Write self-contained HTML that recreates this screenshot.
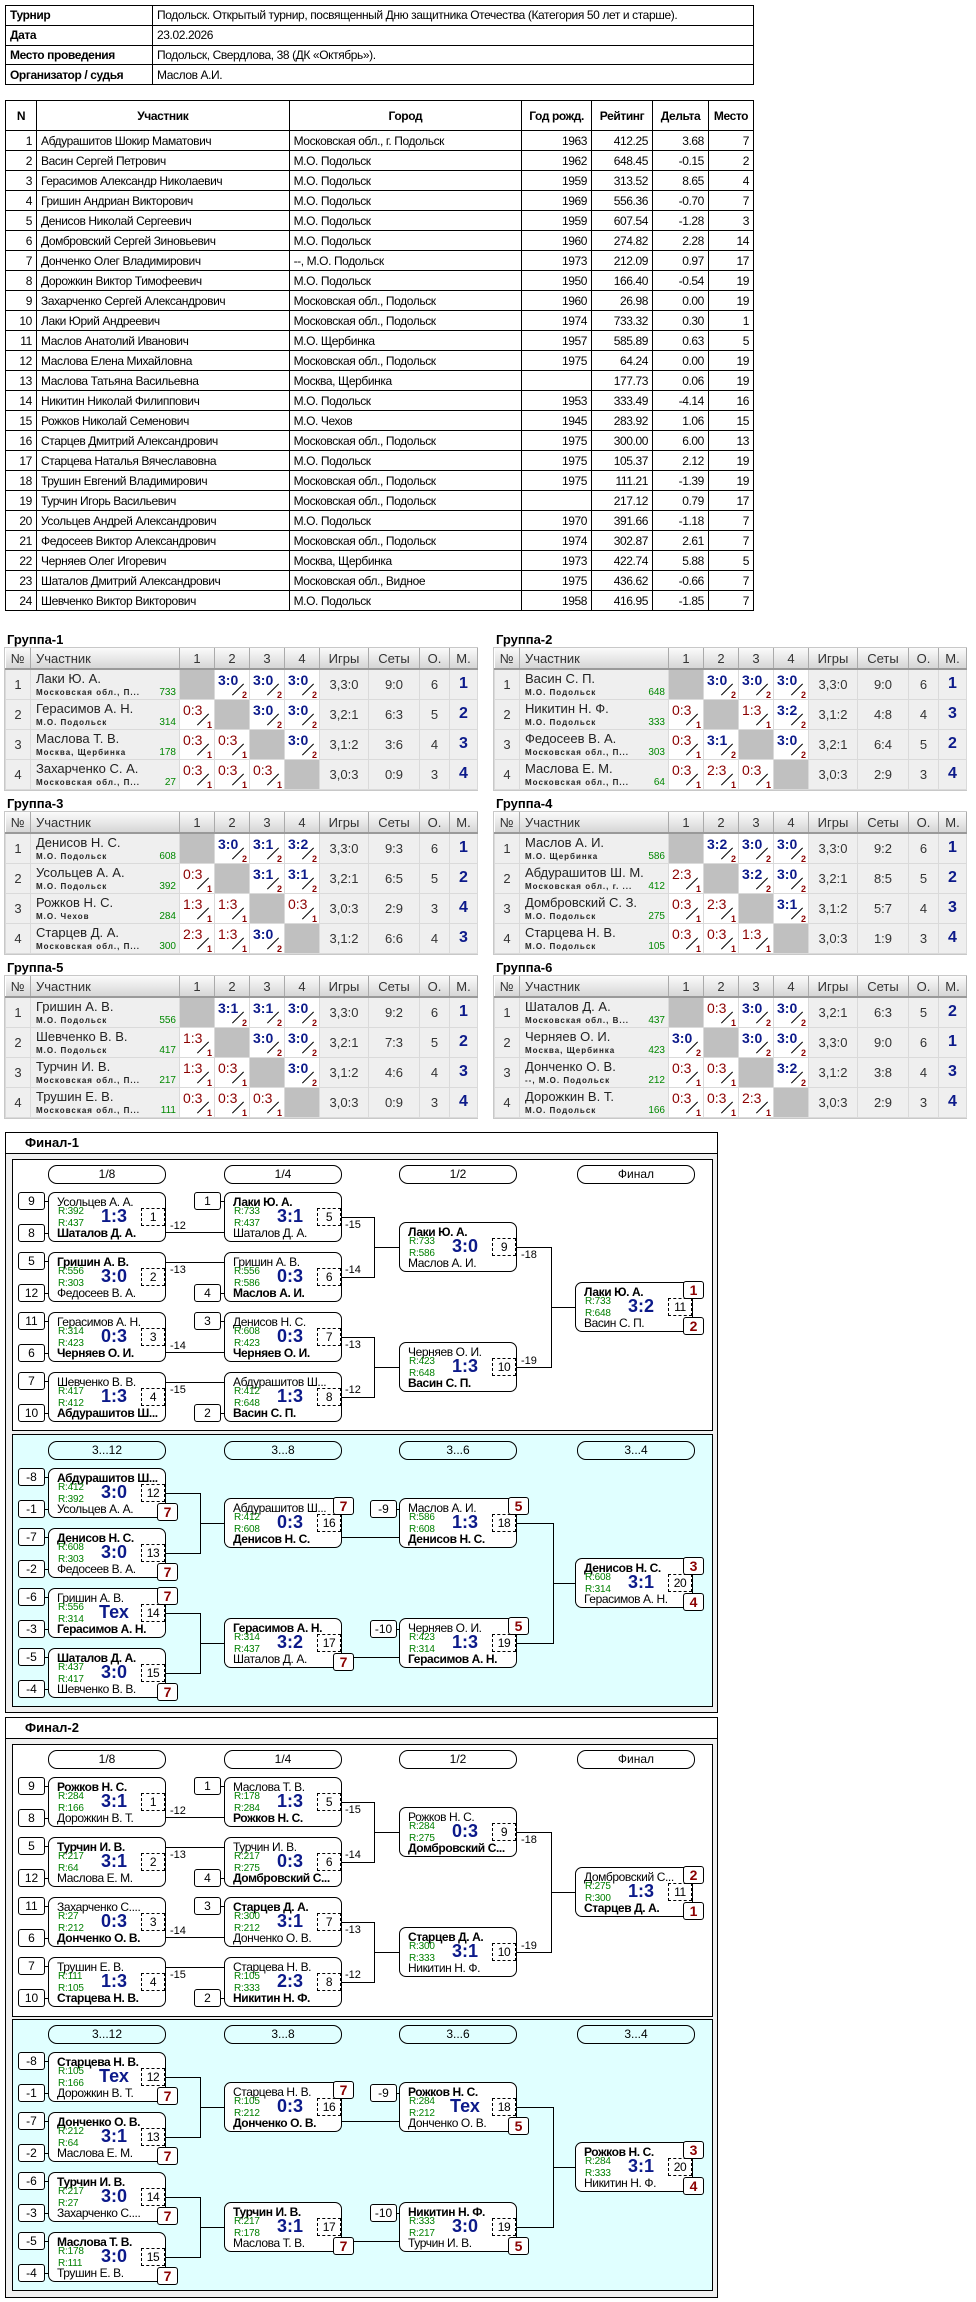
<!DOCTYPE html>
<html><head><meta charset="utf-8">
<style>
*{box-sizing:border-box;margin:0;padding:0}
body{width:976px;height:2302px;position:relative;background:#fff;font-family:"Liberation Sans","DejaVu Sans",sans-serif;color:#000;overflow:hidden}
.A{position:absolute}
table.info,table.list{position:absolute;left:5px;border-collapse:collapse;width:749px;font-size:12px;letter-spacing:-0.4px}
table.info{top:5px}
table.info td{border:1px solid #000;height:19.75px;padding:0 4px}
table.info td.k{font-weight:bold;width:147px}
table.list{top:100px}
table.list th{border:1px solid #000;height:30px;font-weight:bold}
table.list td{border:1px solid #000;height:20px;padding:0 4px}
table.list td.r{text-align:right}
.gl{position:absolute;font-weight:bold;font-size:13px}
.g{position:absolute;width:474px;border:1px solid #c8c8c8}
.g table{border-collapse:collapse;table-layout:fixed;width:472px}
.g th{height:21px;background:linear-gradient(#fbfbfb,#d6d6d6);border-right:1px solid #aaa;border-bottom:2px solid #999;font-weight:normal;font-size:13px;color:#333}
.g th.l{text-align:left;padding-left:5px}
.g td{height:30px;border:1px solid #dadada;background:#efefef;text-align:center;font-size:13px;color:#333;position:relative;padding:0}
.g td.x{background:#c0c0c0}
.g td.w,.g td.lo{background:#fff}
.g td.w b,.g td.lo b{position:absolute;left:3px;top:2px;font-size:14px}
.g td.w b{color:#0c1a8a}
.g td.lo b{color:#8b0000;font-weight:normal}
.g td.w i,.g td.lo i{position:absolute;right:2px;bottom:-1px;font-style:normal;font-weight:bold;font-size:9px;color:#8b0000}
.g td.w:after,.g td.lo:after{content:"";position:absolute;left:15px;top:19px;width:16px;height:1px;background:#000;transform:rotate(-45deg)}
.g td.nm{text-align:left}
.g td.nm .a{position:absolute;left:5px;top:1px;font-size:13px;color:#222;white-space:nowrap}
.g td.nm .c{position:absolute;left:5px;top:18px;font-size:8px;font-weight:bold;letter-spacing:1px;color:#222;white-space:nowrap}
.g td.nm .rt{position:absolute;right:3px;top:17px;font-size:10px;color:#008800}
.g td.p{font-weight:bold;font-size:16px;color:#0c1a8a}
.fb{position:absolute;left:5px;width:713px;border:1px solid #000;background:#f0f0f0}
.ft{position:absolute;left:0;top:0;width:711px;height:21px;background:#fff;border-bottom:1px solid #000;font-weight:bold;font-size:13px;padding:2px 19px}
.ib{position:absolute;left:12px;width:701px;border:1px solid #000;background:#fff}
.cy{background:#e0ffff}
.pl{position:absolute;width:118px;height:19px;border:1px solid #000;border-radius:9px;text-align:center;font-size:12px;line-height:17px}
.m{position:absolute;width:118px;height:50px;border:1px solid #000;border-radius:7px;background:#fff;font-size:12px;letter-spacing:-0.4px}
.m span{position:absolute;white-space:nowrap}
.m .n1{left:8px;top:2px;line-height:14px;max-width:106px;overflow:hidden}
.m .n2{left:8px;top:33px;line-height:14px;max-width:106px;overflow:hidden}
.m .b{font-weight:bold}
.m .r1,.m .r2{left:9px;font-size:10px;color:#008000;line-height:11px;letter-spacing:-0.2px}
.m .r1{top:13px}.m .r2{top:25px}
.m .s{left:38px;top:14px;width:54px;text-align:center;font-weight:bold;font-size:18px;line-height:19px;color:#0c1a8a;letter-spacing:0}
.m .d{left:92px;top:15px;width:24px;height:18px;border:1px dashed #000;text-align:center;font-size:12px;line-height:16px;background:#fff}
.sd{position:absolute;width:27px;height:18px;border:1px solid #000;border-radius:3px;text-align:center;font-size:12px;line-height:16px;background:#fff}
.sd:after{content:"";position:absolute;right:-5px;top:8px;width:4px;height:1px;background:#000}
.bd{position:absolute;width:21px;height:18px;border:1px solid #000;border-radius:3px;text-align:center;font-weight:bold;font-size:14px;line-height:16px;color:#8b0000;background:#fff}
.h{position:absolute;height:1px;background:#000}
.v{position:absolute;width:1px;background:#000}
.lb{position:absolute;font-size:11px;line-height:12px}
</style></head><body>

<table class="info">
<tr><td class="k">Турнир</td><td>Подольск. Открытый турнир, посвященный Дню защитника Отечества (Категория 50 лет и старше).</td></tr>
<tr><td class="k">Дата</td><td>23.02.2026</td></tr>
<tr><td class="k">Место проведения</td><td>Подольск, Свердлова, 38 (ДК «Октябрь»).</td></tr>
<tr><td class="k">Организатор / судья</td><td>Маслов А.И.</td></tr>
</table>

<table class="list">
<colgroup><col style="width:31px"><col style="width:253px"><col style="width:233px"><col style="width:70px"><col style="width:61px"><col style="width:56px"><col style="width:45px"></colgroup>
<tr><th>N</th><th>Участник</th><th>Город</th><th>Год рожд.</th><th>Рейтинг</th><th>Дельта</th><th>Место</th></tr>
<tr><td class="r">1</td><td>Абдурашитов Шокир Маматович</td><td>Московская обл., г. Подольск</td><td class="r">1963</td><td class="r">412.25</td><td class="r">3.68</td><td class="r">7</td></tr>
<tr><td class="r">2</td><td>Васин Сергей Петрович</td><td>М.О. Подольск</td><td class="r">1962</td><td class="r">648.45</td><td class="r">-0.15</td><td class="r">2</td></tr>
<tr><td class="r">3</td><td>Герасимов Александр Николаевич</td><td>М.О. Подольск</td><td class="r">1959</td><td class="r">313.52</td><td class="r">8.65</td><td class="r">4</td></tr>
<tr><td class="r">4</td><td>Гришин Андриан Викторович</td><td>М.О. Подольск</td><td class="r">1969</td><td class="r">556.36</td><td class="r">-0.70</td><td class="r">7</td></tr>
<tr><td class="r">5</td><td>Денисов Николай Сергеевич</td><td>М.О. Подольск</td><td class="r">1959</td><td class="r">607.54</td><td class="r">-1.28</td><td class="r">3</td></tr>
<tr><td class="r">6</td><td>Домбровский Сергей Зиновьевич</td><td>М.О. Подольск</td><td class="r">1960</td><td class="r">274.82</td><td class="r">2.28</td><td class="r">14</td></tr>
<tr><td class="r">7</td><td>Донченко Олег Владимирович</td><td>--, М.О. Подольск</td><td class="r">1973</td><td class="r">212.09</td><td class="r">0.97</td><td class="r">17</td></tr>
<tr><td class="r">8</td><td>Дорожкин Виктор Тимофеевич</td><td>М.О. Подольск</td><td class="r">1950</td><td class="r">166.40</td><td class="r">-0.54</td><td class="r">19</td></tr>
<tr><td class="r">9</td><td>Захарченко Сергей Александрович</td><td>Московская обл., Подольск</td><td class="r">1960</td><td class="r">26.98</td><td class="r">0.00</td><td class="r">19</td></tr>
<tr><td class="r">10</td><td>Лаки Юрий Андреевич</td><td>Московская обл., Подольск</td><td class="r">1974</td><td class="r">733.32</td><td class="r">0.30</td><td class="r">1</td></tr>
<tr><td class="r">11</td><td>Маслов Анатолий Иванович</td><td>М.О. Щербинка</td><td class="r">1957</td><td class="r">585.89</td><td class="r">0.63</td><td class="r">5</td></tr>
<tr><td class="r">12</td><td>Маслова Елена Михайловна</td><td>Московская обл., Подольск</td><td class="r">1975</td><td class="r">64.24</td><td class="r">0.00</td><td class="r">19</td></tr>
<tr><td class="r">13</td><td>Маслова Татьяна Васильевна</td><td>Москва, Щербинка</td><td class="r"></td><td class="r">177.73</td><td class="r">0.06</td><td class="r">19</td></tr>
<tr><td class="r">14</td><td>Никитин Николай Филиппович</td><td>М.О. Подольск</td><td class="r">1953</td><td class="r">333.49</td><td class="r">-4.14</td><td class="r">16</td></tr>
<tr><td class="r">15</td><td>Рожков Николай Семенович</td><td>М.О. Чехов</td><td class="r">1945</td><td class="r">283.92</td><td class="r">1.06</td><td class="r">15</td></tr>
<tr><td class="r">16</td><td>Старцев Дмитрий Александрович</td><td>Московская обл., Подольск</td><td class="r">1975</td><td class="r">300.00</td><td class="r">6.00</td><td class="r">13</td></tr>
<tr><td class="r">17</td><td>Старцева Наталья Вячеславовна</td><td>М.О. Подольск</td><td class="r">1975</td><td class="r">105.37</td><td class="r">2.12</td><td class="r">19</td></tr>
<tr><td class="r">18</td><td>Трушин Евгений Владимирович</td><td>Московская обл., Подольск</td><td class="r">1975</td><td class="r">111.21</td><td class="r">-1.39</td><td class="r">19</td></tr>
<tr><td class="r">19</td><td>Турчин Игорь Васильевич</td><td>Московская обл., Подольск</td><td class="r"></td><td class="r">217.12</td><td class="r">0.79</td><td class="r">17</td></tr>
<tr><td class="r">20</td><td>Усольцев Андрей Александрович</td><td>М.О. Подольск</td><td class="r">1970</td><td class="r">391.66</td><td class="r">-1.18</td><td class="r">7</td></tr>
<tr><td class="r">21</td><td>Федосеев Виктор Александрович</td><td>Московская обл., Подольск</td><td class="r">1974</td><td class="r">302.87</td><td class="r">2.61</td><td class="r">7</td></tr>
<tr><td class="r">22</td><td>Черняев Олег Игоревич</td><td>Москва, Щербинка</td><td class="r">1973</td><td class="r">422.74</td><td class="r">5.88</td><td class="r">5</td></tr>
<tr><td class="r">23</td><td>Шаталов Дмитрий Александрович</td><td>Московская обл., Видное</td><td class="r">1975</td><td class="r">436.62</td><td class="r">-0.66</td><td class="r">7</td></tr>
<tr><td class="r">24</td><td>Шевченко Виктор Викторович</td><td>М.О. Подольск</td><td class="r">1958</td><td class="r">416.95</td><td class="r">-1.85</td><td class="r">7</td></tr>
</table>

<!-- GROUPS -->
<div class="gl" style="left:7px;top:632px">Группа-1</div>
<div class="g" style="left:4px;top:647px"><table>
<colgroup><col style="width:25px"><col style="width:149px"><col style="width:35px"><col style="width:35px"><col style="width:35px"><col style="width:35px"><col style="width:49px"><col style="width:51px"><col style="width:30px"><col style="width:28px"></colgroup>
<tr><th>№</th><th class="l">Участник</th><th>1</th><th>2</th><th>3</th><th>4</th><th>Игры</th><th>Сеты</th><th>О.</th><th>М.</th></tr>
<tr><td>1</td><td class="nm"><span class="a">Лаки Ю. А.</span><span class="c">Московская обл., П...</span><span class="rt">733</span></td><td class="x"></td><td class="w"><b>3:0</b><i>2</i></td><td class="w"><b>3:0</b><i>2</i></td><td class="w"><b>3:0</b><i>2</i></td><td>3,3:0</td><td>9:0</td><td>6</td><td class="p">1</td></tr>
<tr><td>2</td><td class="nm"><span class="a">Герасимов А. Н.</span><span class="c">М.О. Подольск</span><span class="rt">314</span></td><td class="lo"><b>0:3</b><i>1</i></td><td class="x"></td><td class="w"><b>3:0</b><i>2</i></td><td class="w"><b>3:0</b><i>2</i></td><td>3,2:1</td><td>6:3</td><td>5</td><td class="p">2</td></tr>
<tr><td>3</td><td class="nm"><span class="a">Маслова Т. В.</span><span class="c">Москва, Щербинка</span><span class="rt">178</span></td><td class="lo"><b>0:3</b><i>1</i></td><td class="lo"><b>0:3</b><i>1</i></td><td class="x"></td><td class="w"><b>3:0</b><i>2</i></td><td>3,1:2</td><td>3:6</td><td>4</td><td class="p">3</td></tr>
<tr><td>4</td><td class="nm"><span class="a">Захарченко С. А.</span><span class="c">Московская обл., П...</span><span class="rt">27</span></td><td class="lo"><b>0:3</b><i>1</i></td><td class="lo"><b>0:3</b><i>1</i></td><td class="lo"><b>0:3</b><i>1</i></td><td class="x"></td><td>3,0:3</td><td>0:9</td><td>3</td><td class="p">4</td></tr>
</table></div>

<div class="gl" style="left:496px;top:632px">Группа-2</div>
<div class="g" style="left:493px;top:647px"><table>
<colgroup><col style="width:25px"><col style="width:149px"><col style="width:35px"><col style="width:35px"><col style="width:35px"><col style="width:35px"><col style="width:49px"><col style="width:51px"><col style="width:30px"><col style="width:28px"></colgroup>
<tr><th>№</th><th class="l">Участник</th><th>1</th><th>2</th><th>3</th><th>4</th><th>Игры</th><th>Сеты</th><th>О.</th><th>М.</th></tr>
<tr><td>1</td><td class="nm"><span class="a">Васин С. П.</span><span class="c">М.О. Подольск</span><span class="rt">648</span></td><td class="x"></td><td class="w"><b>3:0</b><i>2</i></td><td class="w"><b>3:0</b><i>2</i></td><td class="w"><b>3:0</b><i>2</i></td><td>3,3:0</td><td>9:0</td><td>6</td><td class="p">1</td></tr>
<tr><td>2</td><td class="nm"><span class="a">Никитин Н. Ф.</span><span class="c">М.О. Подольск</span><span class="rt">333</span></td><td class="lo"><b>0:3</b><i>1</i></td><td class="x"></td><td class="lo"><b>1:3</b><i>1</i></td><td class="w"><b>3:2</b><i>2</i></td><td>3,1:2</td><td>4:8</td><td>4</td><td class="p">3</td></tr>
<tr><td>3</td><td class="nm"><span class="a">Федосеев В. А.</span><span class="c">Московская обл., П...</span><span class="rt">303</span></td><td class="lo"><b>0:3</b><i>1</i></td><td class="w"><b>3:1</b><i>2</i></td><td class="x"></td><td class="w"><b>3:0</b><i>2</i></td><td>3,2:1</td><td>6:4</td><td>5</td><td class="p">2</td></tr>
<tr><td>4</td><td class="nm"><span class="a">Маслова Е. М.</span><span class="c">Московская обл., П...</span><span class="rt">64</span></td><td class="lo"><b>0:3</b><i>1</i></td><td class="lo"><b>2:3</b><i>1</i></td><td class="lo"><b>0:3</b><i>1</i></td><td class="x"></td><td>3,0:3</td><td>2:9</td><td>3</td><td class="p">4</td></tr>
</table></div>

<div class="gl" style="left:7px;top:796px">Группа-3</div>
<div class="g" style="left:4px;top:811px"><table>
<colgroup><col style="width:25px"><col style="width:149px"><col style="width:35px"><col style="width:35px"><col style="width:35px"><col style="width:35px"><col style="width:49px"><col style="width:51px"><col style="width:30px"><col style="width:28px"></colgroup>
<tr><th>№</th><th class="l">Участник</th><th>1</th><th>2</th><th>3</th><th>4</th><th>Игры</th><th>Сеты</th><th>О.</th><th>М.</th></tr>
<tr><td>1</td><td class="nm"><span class="a">Денисов Н. С.</span><span class="c">М.О. Подольск</span><span class="rt">608</span></td><td class="x"></td><td class="w"><b>3:0</b><i>2</i></td><td class="w"><b>3:1</b><i>2</i></td><td class="w"><b>3:2</b><i>2</i></td><td>3,3:0</td><td>9:3</td><td>6</td><td class="p">1</td></tr>
<tr><td>2</td><td class="nm"><span class="a">Усольцев А. А.</span><span class="c">М.О. Подольск</span><span class="rt">392</span></td><td class="lo"><b>0:3</b><i>1</i></td><td class="x"></td><td class="w"><b>3:1</b><i>2</i></td><td class="w"><b>3:1</b><i>2</i></td><td>3,2:1</td><td>6:5</td><td>5</td><td class="p">2</td></tr>
<tr><td>3</td><td class="nm"><span class="a">Рожков Н. С.</span><span class="c">М.О. Чехов</span><span class="rt">284</span></td><td class="lo"><b>1:3</b><i>1</i></td><td class="lo"><b>1:3</b><i>1</i></td><td class="x"></td><td class="lo"><b>0:3</b><i>1</i></td><td>3,0:3</td><td>2:9</td><td>3</td><td class="p">4</td></tr>
<tr><td>4</td><td class="nm"><span class="a">Старцев Д. А.</span><span class="c">Московская обл., П...</span><span class="rt">300</span></td><td class="lo"><b>2:3</b><i>1</i></td><td class="lo"><b>1:3</b><i>1</i></td><td class="w"><b>3:0</b><i>2</i></td><td class="x"></td><td>3,1:2</td><td>6:6</td><td>4</td><td class="p">3</td></tr>
</table></div>

<div class="gl" style="left:496px;top:796px">Группа-4</div>
<div class="g" style="left:493px;top:811px"><table>
<colgroup><col style="width:25px"><col style="width:149px"><col style="width:35px"><col style="width:35px"><col style="width:35px"><col style="width:35px"><col style="width:49px"><col style="width:51px"><col style="width:30px"><col style="width:28px"></colgroup>
<tr><th>№</th><th class="l">Участник</th><th>1</th><th>2</th><th>3</th><th>4</th><th>Игры</th><th>Сеты</th><th>О.</th><th>М.</th></tr>
<tr><td>1</td><td class="nm"><span class="a">Маслов А. И.</span><span class="c">М.О. Щербинка</span><span class="rt">586</span></td><td class="x"></td><td class="w"><b>3:2</b><i>2</i></td><td class="w"><b>3:0</b><i>2</i></td><td class="w"><b>3:0</b><i>2</i></td><td>3,3:0</td><td>9:2</td><td>6</td><td class="p">1</td></tr>
<tr><td>2</td><td class="nm"><span class="a">Абдурашитов Ш. М.</span><span class="c">Московская обл., г. ...</span><span class="rt">412</span></td><td class="lo"><b>2:3</b><i>1</i></td><td class="x"></td><td class="w"><b>3:2</b><i>2</i></td><td class="w"><b>3:0</b><i>2</i></td><td>3,2:1</td><td>8:5</td><td>5</td><td class="p">2</td></tr>
<tr><td>3</td><td class="nm"><span class="a">Домбровский С. З.</span><span class="c">М.О. Подольск</span><span class="rt">275</span></td><td class="lo"><b>0:3</b><i>1</i></td><td class="lo"><b>2:3</b><i>1</i></td><td class="x"></td><td class="w"><b>3:1</b><i>2</i></td><td>3,1:2</td><td>5:7</td><td>4</td><td class="p">3</td></tr>
<tr><td>4</td><td class="nm"><span class="a">Старцева Н. В.</span><span class="c">М.О. Подольск</span><span class="rt">105</span></td><td class="lo"><b>0:3</b><i>1</i></td><td class="lo"><b>0:3</b><i>1</i></td><td class="lo"><b>1:3</b><i>1</i></td><td class="x"></td><td>3,0:3</td><td>1:9</td><td>3</td><td class="p">4</td></tr>
</table></div>

<div class="gl" style="left:7px;top:960px">Группа-5</div>
<div class="g" style="left:4px;top:975px"><table>
<colgroup><col style="width:25px"><col style="width:149px"><col style="width:35px"><col style="width:35px"><col style="width:35px"><col style="width:35px"><col style="width:49px"><col style="width:51px"><col style="width:30px"><col style="width:28px"></colgroup>
<tr><th>№</th><th class="l">Участник</th><th>1</th><th>2</th><th>3</th><th>4</th><th>Игры</th><th>Сеты</th><th>О.</th><th>М.</th></tr>
<tr><td>1</td><td class="nm"><span class="a">Гришин А. В.</span><span class="c">М.О. Подольск</span><span class="rt">556</span></td><td class="x"></td><td class="w"><b>3:1</b><i>2</i></td><td class="w"><b>3:1</b><i>2</i></td><td class="w"><b>3:0</b><i>2</i></td><td>3,3:0</td><td>9:2</td><td>6</td><td class="p">1</td></tr>
<tr><td>2</td><td class="nm"><span class="a">Шевченко В. В.</span><span class="c">М.О. Подольск</span><span class="rt">417</span></td><td class="lo"><b>1:3</b><i>1</i></td><td class="x"></td><td class="w"><b>3:0</b><i>2</i></td><td class="w"><b>3:0</b><i>2</i></td><td>3,2:1</td><td>7:3</td><td>5</td><td class="p">2</td></tr>
<tr><td>3</td><td class="nm"><span class="a">Турчин И. В.</span><span class="c">Московская обл., П...</span><span class="rt">217</span></td><td class="lo"><b>1:3</b><i>1</i></td><td class="lo"><b>0:3</b><i>1</i></td><td class="x"></td><td class="w"><b>3:0</b><i>2</i></td><td>3,1:2</td><td>4:6</td><td>4</td><td class="p">3</td></tr>
<tr><td>4</td><td class="nm"><span class="a">Трушин Е. В.</span><span class="c">Московская обл., П...</span><span class="rt">111</span></td><td class="lo"><b>0:3</b><i>1</i></td><td class="lo"><b>0:3</b><i>1</i></td><td class="lo"><b>0:3</b><i>1</i></td><td class="x"></td><td>3,0:3</td><td>0:9</td><td>3</td><td class="p">4</td></tr>
</table></div>

<div class="gl" style="left:496px;top:960px">Группа-6</div>
<div class="g" style="left:493px;top:975px"><table>
<colgroup><col style="width:25px"><col style="width:149px"><col style="width:35px"><col style="width:35px"><col style="width:35px"><col style="width:35px"><col style="width:49px"><col style="width:51px"><col style="width:30px"><col style="width:28px"></colgroup>
<tr><th>№</th><th class="l">Участник</th><th>1</th><th>2</th><th>3</th><th>4</th><th>Игры</th><th>Сеты</th><th>О.</th><th>М.</th></tr>
<tr><td>1</td><td class="nm"><span class="a">Шаталов Д. А.</span><span class="c">Московская обл., В...</span><span class="rt">437</span></td><td class="x"></td><td class="lo"><b>0:3</b><i>1</i></td><td class="w"><b>3:0</b><i>2</i></td><td class="w"><b>3:0</b><i>2</i></td><td>3,2:1</td><td>6:3</td><td>5</td><td class="p">2</td></tr>
<tr><td>2</td><td class="nm"><span class="a">Черняев О. И.</span><span class="c">Москва, Щербинка</span><span class="rt">423</span></td><td class="w"><b>3:0</b><i>2</i></td><td class="x"></td><td class="w"><b>3:0</b><i>2</i></td><td class="w"><b>3:0</b><i>2</i></td><td>3,3:0</td><td>9:0</td><td>6</td><td class="p">1</td></tr>
<tr><td>3</td><td class="nm"><span class="a">Донченко О. В.</span><span class="c">--, М.О. Подольск</span><span class="rt">212</span></td><td class="lo"><b>0:3</b><i>1</i></td><td class="lo"><b>0:3</b><i>1</i></td><td class="x"></td><td class="w"><b>3:2</b><i>2</i></td><td>3,1:2</td><td>3:8</td><td>4</td><td class="p">3</td></tr>
<tr><td>4</td><td class="nm"><span class="a">Дорожкин В. Т.</span><span class="c">М.О. Подольск</span><span class="rt">166</span></td><td class="lo"><b>0:3</b><i>1</i></td><td class="lo"><b>0:3</b><i>1</i></td><td class="lo"><b>2:3</b><i>1</i></td><td class="x"></td><td>3,0:3</td><td>2:9</td><td>3</td><td class="p">4</td></tr>
</table></div>

<!-- FINAL-1 -->
<div class="fb" style="top:1132px;height:581px"><div class="ft">Финал-1</div></div>
<div class="ib" style="top:1159px;height:272px"></div>
<div class="ib cy" style="top:1434px;height:273px"></div>

<div class="pl" style="left:48px;top:1165px">1/8</div>
<div class="pl" style="left:224px;top:1165px">1/4</div>
<div class="pl" style="left:399px;top:1165px">1/2</div>
<div class="pl" style="left:577px;top:1165px">Финал</div>

<div class="sd" style="left:18px;top:1192px">9</div><div class="sd" style="left:18px;top:1224px">8</div>
<div class="sd" style="left:18px;top:1252px">5</div><div class="sd" style="left:18px;top:1284px">12</div>
<div class="sd" style="left:18px;top:1312px">11</div><div class="sd" style="left:18px;top:1344px">6</div>
<div class="sd" style="left:18px;top:1372px">7</div><div class="sd" style="left:18px;top:1404px">10</div>
<div class="sd" style="left:194px;top:1192px">1</div><div class="sd" style="left:194px;top:1284px">4</div>
<div class="sd" style="left:194px;top:1312px">3</div><div class="sd" style="left:194px;top:1404px">2</div>

<div class="h" style="left:166px;top:1232px;width:58px"></div><div class="lb" style="left:170px;top:1220px">-12</div>
<div class="h" style="left:166px;top:1262px;width:58px"></div><div class="lb" style="left:170px;top:1264px">-13</div>
<div class="h" style="left:166px;top:1352px;width:58px"></div><div class="lb" style="left:170px;top:1340px">-14</div>
<div class="h" style="left:166px;top:1382px;width:58px"></div><div class="lb" style="left:170px;top:1384px">-15</div>
<div class="h" style="left:342px;top:1217px;width:32px"></div><div class="h" style="left:342px;top:1277px;width:32px"></div><div class="v" style="left:374px;top:1217px;height:61px"></div><div class="h" style="left:374px;top:1247px;width:25px"></div>
<div class="h" style="left:342px;top:1337px;width:32px"></div><div class="h" style="left:342px;top:1397px;width:32px"></div><div class="v" style="left:374px;top:1337px;height:61px"></div><div class="h" style="left:374px;top:1367px;width:25px"></div>
<div class="lb" style="left:345px;top:1219px">-15</div><div class="lb" style="left:345px;top:1264px">-14</div><div class="lb" style="left:345px;top:1339px">-13</div><div class="lb" style="left:345px;top:1384px">-12</div>
<div class="h" style="left:517px;top:1247px;width:34px"></div><div class="h" style="left:517px;top:1367px;width:34px"></div><div class="v" style="left:551px;top:1247px;height:121px"></div><div class="h" style="left:551px;top:1307px;width:26px"></div>
<div class="lb" style="left:521px;top:1249px">-18</div><div class="lb" style="left:521px;top:1355px">-19</div>

<div class="m" style="left:48px;top:1192px"><span class="n1">Усольцев А. А.</span><span class="r1">R:392</span><span class="r2">R:437</span><span class="s">1:3</span><span class="d">1</span><span class="n2 b">Шаталов Д. А.</span></div>
<div class="m" style="left:48px;top:1252px"><span class="n1 b">Гришин А. В.</span><span class="r1">R:556</span><span class="r2">R:303</span><span class="s">3:0</span><span class="d">2</span><span class="n2">Федосеев В. А.</span></div>
<div class="m" style="left:48px;top:1312px"><span class="n1">Герасимов А. Н.</span><span class="r1">R:314</span><span class="r2">R:423</span><span class="s">0:3</span><span class="d">3</span><span class="n2 b">Черняев О. И.</span></div>
<div class="m" style="left:48px;top:1372px"><span class="n1">Шевченко В. В.</span><span class="r1">R:417</span><span class="r2">R:412</span><span class="s">1:3</span><span class="d">4</span><span class="n2 b">Абдурашитов Ш...</span></div>
<div class="m" style="left:224px;top:1192px"><span class="n1 b">Лаки Ю. А.</span><span class="r1">R:733</span><span class="r2">R:437</span><span class="s">3:1</span><span class="d">5</span><span class="n2">Шаталов Д. А.</span></div>
<div class="m" style="left:224px;top:1252px"><span class="n1">Гришин А. В.</span><span class="r1">R:556</span><span class="r2">R:586</span><span class="s">0:3</span><span class="d">6</span><span class="n2 b">Маслов А. И.</span></div>
<div class="m" style="left:224px;top:1312px"><span class="n1">Денисов Н. С.</span><span class="r1">R:608</span><span class="r2">R:423</span><span class="s">0:3</span><span class="d">7</span><span class="n2 b">Черняев О. И.</span></div>
<div class="m" style="left:224px;top:1372px"><span class="n1">Абдурашитов Ш...</span><span class="r1">R:412</span><span class="r2">R:648</span><span class="s">1:3</span><span class="d">8</span><span class="n2 b">Васин С. П.</span></div>
<div class="m" style="left:399px;top:1222px"><span class="n1 b">Лаки Ю. А.</span><span class="r1">R:733</span><span class="r2">R:586</span><span class="s">3:0</span><span class="d">9</span><span class="n2">Маслов А. И.</span></div>
<div class="m" style="left:399px;top:1342px"><span class="n1">Черняев О. И.</span><span class="r1">R:423</span><span class="r2">R:648</span><span class="s">1:3</span><span class="d">10</span><span class="n2 b">Васин С. П.</span></div>
<div class="m" style="left:575px;top:1282px"><span class="n1 b">Лаки Ю. А.</span><span class="r1">R:733</span><span class="r2">R:648</span><span class="s">3:2</span><span class="d">11</span><span class="n2">Васин С. П.</span></div>
<div class="bd" style="left:683px;top:1281px">1</div><div class="bd" style="left:683px;top:1317px">2</div>

<!-- cyan 1 -->
<div class="pl" style="left:48px;top:1441px">3...12</div>
<div class="pl" style="left:224px;top:1441px">3...8</div>
<div class="pl" style="left:399px;top:1441px">3...6</div>
<div class="pl" style="left:577px;top:1441px">3...4</div>
<div class="sd" style="left:18px;top:1468px">-8</div><div class="sd" style="left:18px;top:1500px">-1</div>
<div class="sd" style="left:18px;top:1528px">-7</div><div class="sd" style="left:18px;top:1560px">-2</div>
<div class="sd" style="left:18px;top:1588px">-6</div><div class="sd" style="left:18px;top:1620px">-3</div>
<div class="sd" style="left:18px;top:1648px">-5</div><div class="sd" style="left:18px;top:1680px">-4</div>
<div class="sd" style="left:370px;top:1500px">-9</div><div class="sd" style="left:370px;top:1620px">-10</div>
<div class="h" style="left:166px;top:1493px;width:34px"></div><div class="h" style="left:166px;top:1553px;width:34px"></div><div class="v" style="left:200px;top:1493px;height:61px"></div><div class="h" style="left:200px;top:1523px;width:24px"></div>
<div class="h" style="left:166px;top:1613px;width:34px"></div><div class="h" style="left:166px;top:1673px;width:34px"></div><div class="v" style="left:200px;top:1613px;height:61px"></div><div class="h" style="left:200px;top:1643px;width:24px"></div>
<div class="h" style="left:342px;top:1537px;width:57px"></div><div class="h" style="left:342px;top:1657px;width:57px"></div>
<div class="h" style="left:517px;top:1523px;width:36px"></div><div class="h" style="left:517px;top:1643px;width:36px"></div><div class="v" style="left:553px;top:1523px;height:121px"></div><div class="h" style="left:553px;top:1583px;width:24px"></div>

<div class="m" style="left:48px;top:1468px"><span class="n1 b">Абдурашитов Ш...</span><span class="r1">R:412</span><span class="r2">R:392</span><span class="s">3:0</span><span class="d">12</span><span class="n2">Усольцев А. А.</span></div>
<div class="m" style="left:48px;top:1528px"><span class="n1 b">Денисов Н. С.</span><span class="r1">R:608</span><span class="r2">R:303</span><span class="s">3:0</span><span class="d">13</span><span class="n2">Федосеев В. А.</span></div>
<div class="m" style="left:48px;top:1588px"><span class="n1">Гришин А. В.</span><span class="r1">R:556</span><span class="r2">R:314</span><span class="s">Тех</span><span class="d">14</span><span class="n2 b">Герасимов А. Н.</span></div>
<div class="m" style="left:48px;top:1648px"><span class="n1 b">Шаталов Д. А.</span><span class="r1">R:437</span><span class="r2">R:417</span><span class="s">3:0</span><span class="d">15</span><span class="n2">Шевченко В. В.</span></div>
<div class="bd" style="left:157px;top:1503px">7</div><div class="bd" style="left:157px;top:1563px">7</div><div class="bd" style="left:157px;top:1587px">7</div><div class="bd" style="left:157px;top:1683px">7</div>
<div class="m" style="left:224px;top:1498px"><span class="n1">Абдурашитов Ш...</span><span class="r1">R:412</span><span class="r2">R:608</span><span class="s">0:3</span><span class="d">16</span><span class="n2 b">Денисов Н. С.</span></div>
<div class="m" style="left:224px;top:1618px"><span class="n1 b">Герасимов А. Н.</span><span class="r1">R:314</span><span class="r2">R:437</span><span class="s">3:2</span><span class="d">17</span><span class="n2">Шаталов Д. А.</span></div>
<div class="bd" style="left:333px;top:1497px">7</div><div class="bd" style="left:333px;top:1653px">7</div>
<div class="m" style="left:399px;top:1498px"><span class="n1">Маслов А. И.</span><span class="r1">R:586</span><span class="r2">R:608</span><span class="s">1:3</span><span class="d">18</span><span class="n2 b">Денисов Н. С.</span></div>
<div class="m" style="left:399px;top:1618px"><span class="n1">Черняев О. И.</span><span class="r1">R:423</span><span class="r2">R:314</span><span class="s">1:3</span><span class="d">19</span><span class="n2 b">Герасимов А. Н.</span></div>
<div class="bd" style="left:508px;top:1497px">5</div><div class="bd" style="left:508px;top:1617px">5</div>
<div class="m" style="left:575px;top:1558px"><span class="n1 b">Денисов Н. С.</span><span class="r1">R:608</span><span class="r2">R:314</span><span class="s">3:1</span><span class="d">20</span><span class="n2">Герасимов А. Н.</span></div>
<div class="bd" style="left:683px;top:1557px">3</div><div class="bd" style="left:683px;top:1593px">4</div>

<!-- FINAL-2 -->
<div class="fb" style="top:1717px;height:581px"><div class="ft">Финал-2</div></div>
<div class="ib" style="top:1744px;height:273px"></div>
<div class="ib cy" style="top:2019px;height:272px"></div>

<div class="pl" style="left:48px;top:1750px">1/8</div>
<div class="pl" style="left:224px;top:1750px">1/4</div>
<div class="pl" style="left:399px;top:1750px">1/2</div>
<div class="pl" style="left:577px;top:1750px">Финал</div>

<div class="sd" style="left:18px;top:1777px">9</div><div class="sd" style="left:18px;top:1809px">8</div>
<div class="sd" style="left:18px;top:1837px">5</div><div class="sd" style="left:18px;top:1869px">12</div>
<div class="sd" style="left:18px;top:1897px">11</div><div class="sd" style="left:18px;top:1929px">6</div>
<div class="sd" style="left:18px;top:1957px">7</div><div class="sd" style="left:18px;top:1989px">10</div>
<div class="sd" style="left:194px;top:1777px">1</div><div class="sd" style="left:194px;top:1869px">4</div>
<div class="sd" style="left:194px;top:1897px">3</div><div class="sd" style="left:194px;top:1989px">2</div>

<div class="h" style="left:166px;top:1817px;width:58px"></div><div class="lb" style="left:170px;top:1805px">-12</div>
<div class="h" style="left:166px;top:1847px;width:58px"></div><div class="lb" style="left:170px;top:1849px">-13</div>
<div class="h" style="left:166px;top:1937px;width:58px"></div><div class="lb" style="left:170px;top:1925px">-14</div>
<div class="h" style="left:166px;top:1967px;width:58px"></div><div class="lb" style="left:170px;top:1969px">-15</div>
<div class="h" style="left:342px;top:1802px;width:32px"></div><div class="h" style="left:342px;top:1862px;width:32px"></div><div class="v" style="left:374px;top:1802px;height:61px"></div><div class="h" style="left:374px;top:1832px;width:25px"></div>
<div class="h" style="left:342px;top:1922px;width:32px"></div><div class="h" style="left:342px;top:1982px;width:32px"></div><div class="v" style="left:374px;top:1922px;height:61px"></div><div class="h" style="left:374px;top:1952px;width:25px"></div>
<div class="lb" style="left:345px;top:1804px">-15</div><div class="lb" style="left:345px;top:1849px">-14</div><div class="lb" style="left:345px;top:1924px">-13</div><div class="lb" style="left:345px;top:1969px">-12</div>
<div class="h" style="left:517px;top:1832px;width:34px"></div><div class="h" style="left:517px;top:1952px;width:34px"></div><div class="v" style="left:551px;top:1832px;height:121px"></div><div class="h" style="left:551px;top:1892px;width:26px"></div>
<div class="lb" style="left:521px;top:1834px">-18</div><div class="lb" style="left:521px;top:1940px">-19</div>

<div class="m" style="left:48px;top:1777px"><span class="n1 b">Рожков Н. С.</span><span class="r1">R:284</span><span class="r2">R:166</span><span class="s">3:1</span><span class="d">1</span><span class="n2">Дорожкин В. Т.</span></div>
<div class="m" style="left:48px;top:1837px"><span class="n1 b">Турчин И. В.</span><span class="r1">R:217</span><span class="r2">R:64</span><span class="s">3:1</span><span class="d">2</span><span class="n2">Маслова Е. М.</span></div>
<div class="m" style="left:48px;top:1897px"><span class="n1">Захарченко С....</span><span class="r1">R:27</span><span class="r2">R:212</span><span class="s">0:3</span><span class="d">3</span><span class="n2 b">Донченко О. В.</span></div>
<div class="m" style="left:48px;top:1957px"><span class="n1">Трушин Е. В.</span><span class="r1">R:111</span><span class="r2">R:105</span><span class="s">1:3</span><span class="d">4</span><span class="n2 b">Старцева Н. В.</span></div>
<div class="m" style="left:224px;top:1777px"><span class="n1">Маслова Т. В.</span><span class="r1">R:178</span><span class="r2">R:284</span><span class="s">1:3</span><span class="d">5</span><span class="n2 b">Рожков Н. С.</span></div>
<div class="m" style="left:224px;top:1837px"><span class="n1">Турчин И. В.</span><span class="r1">R:217</span><span class="r2">R:275</span><span class="s">0:3</span><span class="d">6</span><span class="n2 b">Домбровский С...</span></div>
<div class="m" style="left:224px;top:1897px"><span class="n1 b">Старцев Д. А.</span><span class="r1">R:300</span><span class="r2">R:212</span><span class="s">3:1</span><span class="d">7</span><span class="n2">Донченко О. В.</span></div>
<div class="m" style="left:224px;top:1957px"><span class="n1">Старцева Н. В.</span><span class="r1">R:105</span><span class="r2">R:333</span><span class="s">2:3</span><span class="d">8</span><span class="n2 b">Никитин Н. Ф.</span></div>
<div class="m" style="left:399px;top:1807px"><span class="n1">Рожков Н. С.</span><span class="r1">R:284</span><span class="r2">R:275</span><span class="s">0:3</span><span class="d">9</span><span class="n2 b">Домбровский С...</span></div>
<div class="m" style="left:399px;top:1927px"><span class="n1 b">Старцев Д. А.</span><span class="r1">R:300</span><span class="r2">R:333</span><span class="s">3:1</span><span class="d">10</span><span class="n2">Никитин Н. Ф.</span></div>
<div class="m" style="left:575px;top:1867px"><span class="n1">Домбровский С...</span><span class="r1">R:275</span><span class="r2">R:300</span><span class="s">1:3</span><span class="d">11</span><span class="n2 b">Старцев Д. А.</span></div>
<div class="bd" style="left:683px;top:1866px">2</div><div class="bd" style="left:683px;top:1902px">1</div>

<!-- cyan 2 -->
<div class="pl" style="left:48px;top:2025px">3...12</div>
<div class="pl" style="left:224px;top:2025px">3...8</div>
<div class="pl" style="left:399px;top:2025px">3...6</div>
<div class="pl" style="left:577px;top:2025px">3...4</div>
<div class="sd" style="left:18px;top:2052px">-8</div><div class="sd" style="left:18px;top:2084px">-1</div>
<div class="sd" style="left:18px;top:2112px">-7</div><div class="sd" style="left:18px;top:2144px">-2</div>
<div class="sd" style="left:18px;top:2172px">-6</div><div class="sd" style="left:18px;top:2204px">-3</div>
<div class="sd" style="left:18px;top:2232px">-5</div><div class="sd" style="left:18px;top:2264px">-4</div>
<div class="sd" style="left:370px;top:2084px">-9</div><div class="sd" style="left:370px;top:2204px">-10</div>
<div class="h" style="left:166px;top:2077px;width:34px"></div><div class="h" style="left:166px;top:2137px;width:34px"></div><div class="v" style="left:200px;top:2077px;height:61px"></div><div class="h" style="left:200px;top:2107px;width:24px"></div>
<div class="h" style="left:166px;top:2197px;width:34px"></div><div class="h" style="left:166px;top:2257px;width:34px"></div><div class="v" style="left:200px;top:2197px;height:61px"></div><div class="h" style="left:200px;top:2227px;width:24px"></div>
<div class="h" style="left:342px;top:2121px;width:57px"></div><div class="h" style="left:342px;top:2241px;width:57px"></div>
<div class="h" style="left:517px;top:2107px;width:36px"></div><div class="h" style="left:517px;top:2227px;width:36px"></div><div class="v" style="left:553px;top:2107px;height:121px"></div><div class="h" style="left:553px;top:2167px;width:24px"></div>

<div class="m" style="left:48px;top:2052px"><span class="n1 b">Старцева Н. В.</span><span class="r1">R:105</span><span class="r2">R:166</span><span class="s">Тех</span><span class="d">12</span><span class="n2">Дорожкин В. Т.</span></div>
<div class="m" style="left:48px;top:2112px"><span class="n1 b">Донченко О. В.</span><span class="r1">R:212</span><span class="r2">R:64</span><span class="s">3:1</span><span class="d">13</span><span class="n2">Маслова Е. М.</span></div>
<div class="m" style="left:48px;top:2172px"><span class="n1 b">Турчин И. В.</span><span class="r1">R:217</span><span class="r2">R:27</span><span class="s">3:0</span><span class="d">14</span><span class="n2">Захарченко С....</span></div>
<div class="m" style="left:48px;top:2232px"><span class="n1 b">Маслова Т. В.</span><span class="r1">R:178</span><span class="r2">R:111</span><span class="s">3:0</span><span class="d">15</span><span class="n2">Трушин Е. В.</span></div>
<div class="bd" style="left:157px;top:2087px">7</div><div class="bd" style="left:157px;top:2147px">7</div><div class="bd" style="left:157px;top:2207px">7</div><div class="bd" style="left:157px;top:2267px">7</div>
<div class="m" style="left:224px;top:2082px"><span class="n1">Старцева Н. В.</span><span class="r1">R:105</span><span class="r2">R:212</span><span class="s">0:3</span><span class="d">16</span><span class="n2 b">Донченко О. В.</span></div>
<div class="m" style="left:224px;top:2202px"><span class="n1 b">Турчин И. В.</span><span class="r1">R:217</span><span class="r2">R:178</span><span class="s">3:1</span><span class="d">17</span><span class="n2">Маслова Т. В.</span></div>
<div class="bd" style="left:333px;top:2081px">7</div><div class="bd" style="left:333px;top:2237px">7</div>
<div class="m" style="left:399px;top:2082px"><span class="n1 b">Рожков Н. С.</span><span class="r1">R:284</span><span class="r2">R:212</span><span class="s">Тех</span><span class="d">18</span><span class="n2">Донченко О. В.</span></div>
<div class="m" style="left:399px;top:2202px"><span class="n1 b">Никитин Н. Ф.</span><span class="r1">R:333</span><span class="r2">R:217</span><span class="s">3:0</span><span class="d">19</span><span class="n2">Турчин И. В.</span></div>
<div class="bd" style="left:508px;top:2117px">5</div><div class="bd" style="left:508px;top:2237px">5</div>
<div class="m" style="left:575px;top:2142px"><span class="n1 b">Рожков Н. С.</span><span class="r1">R:284</span><span class="r2">R:333</span><span class="s">3:1</span><span class="d">20</span><span class="n2">Никитин Н. Ф.</span></div>
<div class="bd" style="left:683px;top:2141px">3</div><div class="bd" style="left:683px;top:2177px">4</div>

</body></html>
